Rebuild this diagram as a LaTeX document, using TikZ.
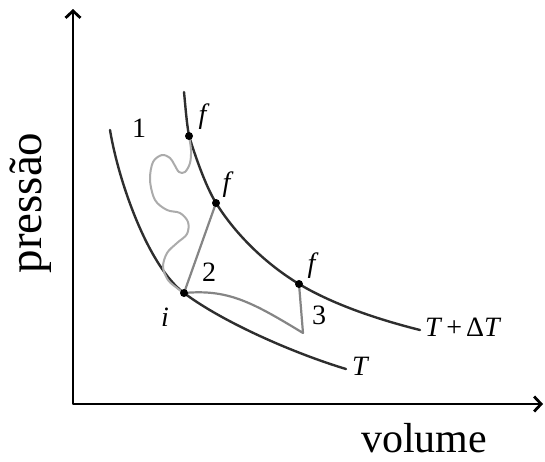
\documentclass[tikz,border=0pt]{standalone}
\usepackage{fontspec}
\setmainfont{Liberation Serif}
\usetikzlibrary{arrows.meta}
\definecolor{isocol}{HTML}{2E2E2E}
\definecolor{proccol}{HTML}{858585}
\definecolor{wigcol}{HTML}{ABABAB}
\begin{document}
\begin{tikzpicture}[x=1pt, y=-1pt, >={Straight Barb[length=7pt,width=15pt]}, line join=round, line cap=round,
	axis/.style={black, line width=2.8pt},
	iso/.style={isocol, line width=2.4pt},
	proc/.style={proccol, line width=2.2pt},
	wig/.style={wigcol, line width=2pt},
	dot/.style={circle, fill=black, inner sep=0pt, minimum size=8pt},
	lbl/.style={font=\fontsize{28}{30}\selectfont, inner sep=0pt}]
			\useasboundingbox (0,0) rectangle (545,461);
			% axes
			\coordinate (ytop) at (73,9);
			\coordinate (O) at (73,404);
			\coordinate (xend) at (543,404);
			\draw[axis, <->] (ytop) -- (O) -- (xend);
			\node[font=\fontsize{47}{50}\selectfont, rotate=90, anchor=base] (pres) at (41,203) {pressão};
			\node[font=\fontsize{42}{46}\selectfont, anchor=base] (vol) at (424,452) {volume};
			% states
			\coordinate (i) at (184,293);
			\coordinate (f1) at (189,136);
			\coordinate (f2) at (216,203);
			\coordinate (f3) at (299,284);
			\coordinate (c3) at (303,333);
			% isotherms
			\draw[iso] (110,130) .. controls (119,184) and (149,267) .. (i)
				.. controls (224,323) and (296,354) .. (346,369);
			\draw[iso] (184,92) .. controls (185.5,107) and (186.5,122) .. (f1)
				.. controls (195,155) and (205,185) .. (f2)
				.. controls (236,235) and (266,264) .. (f3)
				.. controls (334,305) and (380,320) .. (420,330);
			\node[lbl, anchor=west] (tlow) at (352,366) {\textit{T}};
			\node[lbl, anchor=west] (thigh) at (425,327) {\textit{T}\hspace{4pt}+\hspace{4pt}Δ\textit{T}};
			% processes
			\draw[wig] plot[smooth, tension=0.55] coordinates {(189,136) (191,150) (190,163) (185,172) (179,172) (174,164) (170,158) (162,155) (153,162) (150,180) (155,200) (167,210) (180,213) (188,222) (187,234) (177,243) (167,253) (163,267) (168,280) (177,288) (184,293)};
			\draw[proc] (i) -- (f2);
			\draw[proc] (i) .. controls (228,289) and (252,302) .. (c3) -- (f3);
			\foreach \p in {i,f1,f2,f3}
				\node[dot] (dot-\p) at (\p) {};
			% labels
			\node[lbl] (n1) at (139,128) {1};
			\node[lbl] (n2) at (209,272) {2};
			\node[lbl] (n3) at (319,315) {3};
			\node[lbl] (li) at (165,317) {\textit{i}};
			\node[lbl] (lf1) at (204,117) {\textit{f}};
			\node[lbl] (lf2) at (228,185) {\textit{f}};
			\node[lbl] (lf3) at (313,266) {\textit{f}};
	\end{tikzpicture}
\end{document}
